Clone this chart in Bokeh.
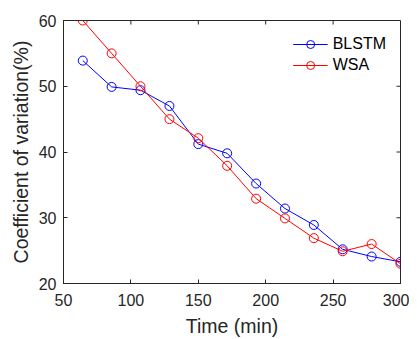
import math
from bokeh.plotting import figure
from bokeh.models import Range1d, Legend, LegendItem, FixedTicker
from bokeh.embed import file_html
from bokeh.resources import INLINE

time_min = [64.3, 85.7, 107.1, 128.6, 150.0, 171.4, 192.9, 214.3, 235.7, 257.1, 278.6, 300.0]
blstm = [53.9, 49.9, 49.4, 47.0, 41.2, 39.8, 35.2, 31.4, 28.9, 25.2, 24.1, 23.3]
wsa = [60.0, 55.0, 50.0, 45.0, 42.1, 37.9, 32.9, 29.9, 26.9, 24.9, 26.0, 23.0]
x_ticks = [50, 100, 150, 200, 250, 300]
y_ticks = [20, 30, 40, 50, 60]

FONT = "Liberation Sans"
TXT = "#262626"

x0, x1 = x_ticks[0], x_ticks[-1]
y0, y1 = y_ticks[0], y_ticks[-1]

p = figure(width=409, height=339, output_backend="svg", toolbar_location=None,
           x_range=Range1d(x0, x1), y_range=Range1d(y0, y1),
           min_border_left=63, min_border_right=9, min_border_top=20, min_border_bottom=55)
p.xgrid.visible = False
p.ygrid.visible = False
p.outline_line_color = TXT
p.outline_line_width = 1

for ax, ticks in ((p.xaxis[0], x_ticks), (p.yaxis[0], y_ticks)):
    ax.ticker = FixedTicker(ticks=ticks)
    ax.major_tick_in = 4
    ax.major_tick_out = 0
    ax.minor_tick_in = 0
    ax.minor_tick_out = 0
    ax.axis_line_color = TXT
    ax.major_tick_line_color = TXT
    ax.major_label_text_font = FONT
    ax.major_label_text_color = TXT
    ax.major_label_text_font_size = "16px"
    ax.axis_label_text_font = FONT
    ax.axis_label_text_font_size = "19.5px"
    ax.axis_label_text_font_style = "normal"
    ax.axis_label_text_color = TXT

p.xaxis[0].major_label_standoff = 10
p.yaxis[0].major_label_standoff = 7
p.xaxis[0].axis_label = "Time (min)"
p.yaxis[0].axis_label = "Coefficient of variation(%)"
p.xaxis[0].axis_label_standoff = 6
p.yaxis[0].axis_label_standoff = 4

# inward ticks on top and right edges (box on), clipped to the frame
top_x = x_ticks[1:-1]
p.scatter(top_x, [y1] * len(top_x), marker="dash", angle=math.pi / 2, size=8,
          line_color=TXT, line_width=1)
right_y = y_ticks[1:-1]
p.scatter([x1] * len(right_y), right_y, marker="dash", size=8,
          line_color=TXT, line_width=1)

l1 = p.line(time_min, blstm, line_color="#0000ff", line_width=1)
s1 = p.scatter(time_min, blstm, marker="circle", size=9, fill_color=None, line_color="#0000ff", line_width=1)
l2 = p.line(time_min, wsa, line_color="#ff0000", line_width=1)
s2 = p.scatter(time_min, wsa, marker="circle", size=9, fill_color=None, line_color="#ff0000", line_width=1)

legend = Legend(items=[LegendItem(label="BLSTM", renderers=[l1, s1]),
                       LegendItem(label="WSA", renderers=[l2, s2])],
                location="top_right", border_line_color=None, background_fill_alpha=0,
                label_text_font=FONT, label_text_font_size="16px", label_text_color="#000000",
                glyph_width=35, glyph_height=20, label_height=20, label_standoff=5,
                spacing=1, padding=5, margin=14)
p.add_layout(legend, "center")

open("out.html", "w").write(file_html(p, INLINE))
